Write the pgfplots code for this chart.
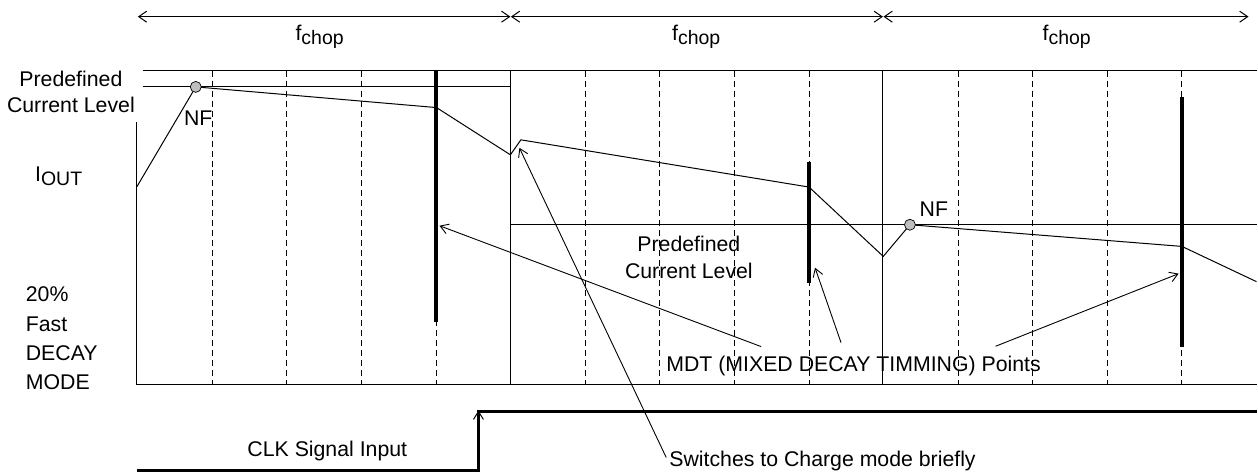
\documentclass[border=0pt]{standalone}
\usepackage{fontspec}
\setmainfont{Liberation Sans}
\usepackage{pgfplots}
\pgfplotsset{compat=1.18}
\usetikzlibrary{arrows.meta}
\newcommand\fs{\fontsize{21.3}{25}\selectfont}
\newcommand\sub[1]{\raisebox{-4pt}{\fontsize{19.5}{23}\selectfont #1}}
\begin{document}
\begin{tikzpicture}
\begin{axis}[scale only axis, width=1258pt, height=473pt,
  xmin=0, xmax=1258, ymin=0, ymax=473, y dir=reverse,
  hide axis, clip=false]

% frame of picture
\addplot[draw=none] coordinates {(0,0) (1258,473)};

% box
\addplot[black, line width=1pt] coordinates {(143,70.7) (1258,70.7)};
\addplot[black, line width=1pt] coordinates {(143,87) (511,87)};
\addplot[black, line width=1pt] coordinates {(137,122) (137,385) (1258,385)};
\addplot[black, line width=1pt] coordinates {(511,70.7) (511,385)};
\addplot[black, line width=1pt] coordinates {(884,70.7) (884,385)};
\addplot[black, line width=1pt] coordinates {(511,225) (1258,225)};

% dashed grid
\foreach \x in {212.7,287.3,362,436.7,586,660.7,735.3,810,959.3,1034,1108.7,1183.3} {
  \edef\temp{\noexpand\addplot[black, line width=1pt, dash pattern=on 6pt off 4pt] coordinates {(\x,70.7) (\x,385)};}
  \temp
}

% MDT bars
\addplot[black, line width=4pt] coordinates {(437,70.7) (437,322)};
\addplot[black, line width=4pt] coordinates {(810,162) (810,283)};
\addplot[black, line width=4pt] coordinates {(1183,97) (1183,347)};

% output current
\addplot[black, line width=1pt] coordinates {
(137,187) (196,87) (437,107.7) (511,155) (521.5,140) (810,187.3)
(884.3,256.7) (911,225) (1183.3,246.7) (1258,282)};

% NF points
\addplot[only marks, mark=*, mark size=5.5pt,
  mark options={fill=gray!50, draw=black, line width=0.7pt}]
  coordinates {(196,87) (911,225)};

% chopping period arrows
\addplot[black, line width=1pt, {Straight Barb[length=8pt,width=11pt]}-{Straight Barb[length=8pt,width=11pt]}]
  coordinates {(138,16.7) (511,16.7)};
\addplot[black, line width=1pt, {Straight Barb[length=8pt,width=11pt]}-{Straight Barb[length=8pt,width=11pt]}]
  coordinates {(511.5,16.7) (884,16.7)};
\addplot[black, line width=1pt, {Straight Barb[length=8pt,width=11pt]}-{Straight Barb[length=8pt,width=11pt]}]
  coordinates {(884.5,16.7) (1250,16.7)};

% CLK signal
\addplot[black, line width=3pt, line join=miter] coordinates {(137,470.7) (479,470.7) (479,412) (1258,412)};
\addplot[black, line width=1pt, -{Straight Barb[length=8pt,width=10pt]}] coordinates {(479,440) (479,411)};

% annotation arrows
\addplot[black, line width=0.9pt, -{Straight Barb[length=8pt,width=10pt]}] coordinates {(762,347) (440,226)};
\addplot[black, line width=0.9pt, -{Straight Barb[length=8pt,width=10pt]}] coordinates {(842,343) (816,268)};
\addplot[black, line width=0.9pt, -{Straight Barb[length=8pt,width=10pt]}] coordinates {(996.7,346.7) (1180,274)};
\addplot[black, line width=0.9pt, -{Straight Barb[length=8pt,width=10pt]}] coordinates {(667,458) (520,148)};

% texts
\node[anchor=base, font=\fs] at (axis cs:320,41) {f\sub{chop}};
\node[anchor=base, font=\fs] at (axis cs:697,41) {f\sub{chop}};
\node[anchor=base, font=\fs] at (axis cs:1068,41) {f\sub{chop}};

\node[anchor=base, font=\fs] at (axis cs:71,87) {Predefined};
\node[anchor=base, font=\fs] at (axis cs:71,113) {Current Level};
\node[anchor=base, font=\fs] at (axis cs:198.5,126) {NF};
\node[anchor=base, font=\fs] at (axis cs:935,216.7) {NF};
\node[anchor=base west, font=\fs, inner sep=0pt] at (axis cs:35,182) {I\sub{OUT}};

\node[anchor=base west, font=\fs, inner sep=0pt] at (axis cs:25.7,302) {20\%};
\node[anchor=base west, font=\fs, inner sep=0pt] at (axis cs:25.7,331.7) {Fast};
\node[anchor=base west, font=\fs, inner sep=0pt] at (axis cs:25.7,361) {DECAY};
\node[anchor=base west, font=\fs, inner sep=0pt] at (axis cs:25.7,390) {MODE};

\node[anchor=base, font=\fs] at (axis cs:689.7,251.7) {Predefined};
\node[anchor=base, font=\fs] at (axis cs:689.7,279) {Current Level};
\node[anchor=base west, font=\fs, inner sep=0pt] at (axis cs:667,371.7) {MDT (MIXED DECAY TIMMING) Points};
\node[anchor=base, font=\fs] at (axis cs:327.7,456.7) {CLK Signal Input};
\node[anchor=base west, font=\fs, inner sep=0pt] at (axis cs:670,467.3) {Switches to Charge mode briefly};

\end{axis}
\end{tikzpicture}
\end{document}
